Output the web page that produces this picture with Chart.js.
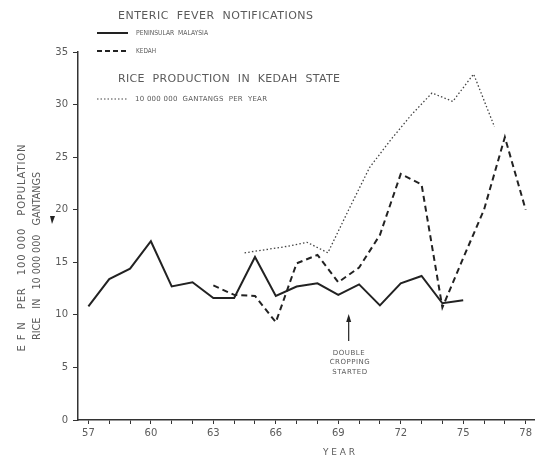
<!DOCTYPE html>
<html>
<head>
<meta charset="utf-8">
<script src="https://cdn.jsdelivr.net/npm/chart.js@4"></script>
<style>
  html, body { margin: 0; padding: 0; background: #fff; }
  #wrap { width: 538px; height: 457px; }
</style>
</head>
<body>
<div id="wrap"><canvas id="efnChart" width="538" height="457"></canvas></div>
<script>
// enteric fever notifications (per 100 000 population)
const peninsularYears = [57, 58, 59, 60, 61, 62, 63, 64, 65, 66, 67, 68, 69, 70, 71, 72, 73, 74, 75];
const peninsular = [10.8, 13.4, 14.4, 17.0, 12.7, 13.1, 11.6, 11.6, 15.5, 11.8, 12.7, 13.0, 11.9, 12.9, 10.9, 13.0, 13.7, 11.1, 11.4];

const kedahYears = [63, 64, 65, 66, 67, 68, 69, 70, 71, 72, 73, 74, 75, 76, 77, 78];
const kedah = [12.8, 11.9, 11.8, 9.3, 14.9, 15.7, 13.1, 14.5, 17.6, 23.4, 22.4, 10.7, 15.4, 20.0, 26.9, 20.0];

// rice production in Kedah (10 000 000 gantangs) - plotted mid-season in the original
const riceYears = [64.5, 65.5, 66.5, 67.5, 68.5, 69.5, 70.5, 71.5, 72.5, 73.5, 74.5, 75.5, 76.5];
const rice = [15.9, 16.2, 16.5, 16.9, 15.9, 20.0, 24.0, 26.6, 29.0, 31.1, 30.3, 32.9, 27.9];

// axis ticks
const xTickYears = [57, 58, 59, 60, 61, 62, 63, 64, 65, 66, 67, 68, 69, 70, 71, 72, 73, 74, 75, 76, 77, 78];
const xLabelYears = [57, 60, 63, 66, 69, 72, 75, 78];
const yTicks = [0, 5, 10, 15, 20, 25, 30, 35];

const toPoints = (xs, ys) => xs.map((x, i) => ({ x: x, y: ys[i] }));

const FONT = '"DejaVu Sans", "Liberation Sans", sans-serif';
const INK = '#222';
const TEXT = '#5a5a5a';

// draw text stretched (or squeezed) to a given width, like the stencil lettering
function spaced(ctx, text, x, y, width, size, align) {
    ctx.font = size + 'px ' + FONT;
    ctx.letterSpacing = '0px';
    ctx.textBaseline = 'middle';
    ctx.textAlign = 'left';
    const w = ctx.measureText(text).width;
    const left = align === 'center' ? x - width / 2 : x;
    if (w > width) {
        // too wide: squeeze horizontally instead of overlapping letters
        ctx.save();
        ctx.translate(left, y);
        ctx.scale(width / w, 1);
        ctx.fillText(text, 0, 0);
        ctx.restore();
        return;
    }
    const ls = (width - w) / Math.max(text.length - 1, 1);
    ctx.letterSpacing = ls + 'px';
    ctx.fillText(text, left, y);
    ctx.letterSpacing = '0px';
}

const extras = {
    id: 'extras',
    afterDraw(chart) {
        const ctx = chart.ctx;
        ctx.save();
        ctx.fillStyle = TEXT;

        // headings and legend
        spaced(ctx, 'ENTERIC  FEVER  NOTIFICATIONS', 118, 16, 195, 11);
        spaced(ctx, 'PENINSULAR  MALAYSIA', 136, 33, 72, 7);
        spaced(ctx, 'KEDAH', 136, 51, 20, 7);
        spaced(ctx, 'RICE  PRODUCTION  IN  KEDAH  STATE', 118, 79, 222, 11);
        spaced(ctx, '10 000 000  GANTANGS  PER  YEAR', 135, 99, 132, 7);

        ctx.strokeStyle = INK;
        ctx.lineWidth = 2;
        ctx.beginPath(); ctx.moveTo(97, 33); ctx.lineTo(128, 33); ctx.stroke();
        ctx.setLineDash([5, 3]);
        ctx.beginPath(); ctx.moveTo(97, 51); ctx.lineTo(126, 51); ctx.stroke();
        ctx.lineWidth = 1.2;
        ctx.strokeStyle = '#444';
        ctx.setLineDash([1.5, 2]);
        ctx.beginPath(); ctx.moveTo(97, 99); ctx.lineTo(128, 99); ctx.stroke();
        ctx.setLineDash([]);

        // y title (two rotated lines)
        ctx.save();
        ctx.translate(22, 248);
        ctx.rotate(-Math.PI / 2);
        spaced(ctx, 'E F N   PER   100 000   POPULATION', 0, 0, 207, 10, 'center');
        ctx.restore();
        ctx.save();
        ctx.translate(37, 256);
        ctx.rotate(-Math.PI / 2);
        spaced(ctx, 'RICE   IN   10 000 000   GANTANGS', 0, 0, 168, 10, 'center');
        ctx.restore();

        // little arrowhead beside the axis title
        ctx.fillStyle = INK;
        ctx.beginPath();
        ctx.moveTo(50, 216); ctx.lineTo(55, 216); ctx.lineTo(52, 224);
        ctx.closePath(); ctx.fill();

        // x title
        ctx.fillStyle = TEXT;
        spaced(ctx, 'YEAR', 323, 453, 32, 9);

        // double cropping annotation
        const ax = chart.scales.x.getPixelForValue(69.5);
        ctx.strokeStyle = INK;
        ctx.lineWidth = 1.2;
        ctx.beginPath(); ctx.moveTo(ax, 341); ctx.lineTo(ax, 317); ctx.stroke();
        ctx.fillStyle = INK;
        ctx.beginPath();
        ctx.moveTo(ax - 2.5, 322); ctx.lineTo(ax, 314); ctx.lineTo(ax + 2.5, 322);
        ctx.closePath(); ctx.fill();
        ctx.fillStyle = TEXT;
        spaced(ctx, 'DOUBLE', ax, 353, 32, 7, 'center');
        spaced(ctx, 'CROPPING', ax + 1, 362, 40, 7, 'center');
        spaced(ctx, 'STARTED', ax + 1, 372, 35, 7, 'center');

        ctx.restore();
    }
};

const ctx = document.getElementById('efnChart').getContext('2d');
new Chart(ctx, {
    type: 'scatter',
    data: {
        datasets: [
            {
                label: 'PENINSULAR MALAYSIA',
                data: toPoints(peninsularYears, peninsular),
                showLine: true,
                borderColor: INK,
                borderWidth: 2,
                pointRadius: 0,
                tension: 0
            },
            {
                label: 'KEDAH',
                data: toPoints(kedahYears, kedah),
                showLine: true,
                borderColor: INK,
                borderWidth: 2,
                borderDash: [6, 4],
                pointRadius: 0,
                tension: 0
            },
            {
                label: '10 000 000 GANTANGS PER YEAR',
                data: toPoints(riceYears, rice),
                showLine: true,
                borderColor: '#444',
                borderWidth: 1.3,
                borderDash: [1.5, 2.2],
                pointRadius: 0,
                tension: 0
            }
        ]
    },
    options: {
        responsive: false,
        animation: false,
        devicePixelRatio: 1,
        layout: { padding: { top: 52, right: 4, left: 0, bottom: 0 } },
        plugins: {
            legend: { display: false },
            tooltip: { enabled: false }
        },
        scales: {
            x: {
                type: 'linear',
                min: 56.5,
                max: 78.4,
                afterFit(scale) { scale.height = 37; },
                afterBuildTicks(scale) {
                    scale.ticks = xTickYears.map(v => ({ value: v }));
                },
                ticks: {
                    autoSkip: false,
                    maxRotation: 0,
                    padding: 3,
                    color: TEXT,
                    font: { family: FONT, size: 10 },
                    callback: (v) => xLabelYears.includes(v) ? String(v) : ''
                },
                grid: {
                    drawOnChartArea: false,
                    tickLength: 4,
                    color: '#333'
                },
                border: { color: '#333', width: 1.5 }
            },
            y: {
                min: 0,
                max: 35,
                afterFit(scale) { scale.width = 78; },
                afterBuildTicks(scale) {
                    scale.ticks = yTicks.map(v => ({ value: v }));
                },
                ticks: {
                    padding: 5,
                    color: TEXT,
                    font: { family: FONT, size: 10 }
                },
                grid: {
                    drawOnChartArea: false,
                    tickLength: 5,
                    color: '#333'
                },
                border: { color: '#333', width: 1.5 }
            }
        }
    },
    plugins: [extras]
});
</script>
</body>
</html>
